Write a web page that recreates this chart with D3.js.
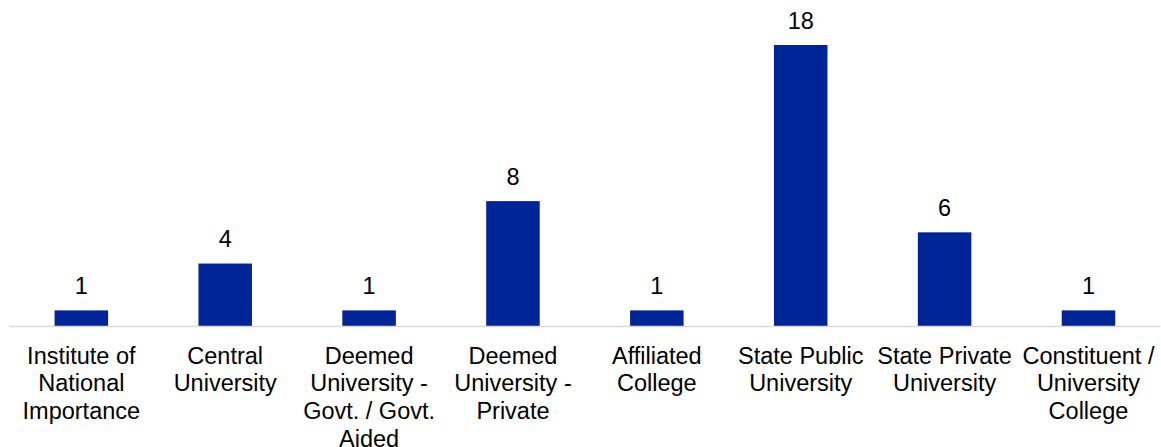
<!DOCTYPE html>
<html><head><meta charset="utf-8">
<script src="https://cdn.jsdelivr.net/npm/d3@7"></script>
<style>body{margin:0;background:#fff}svg{display:block}text{font-family:"Liberation Sans",Arial,sans-serif;fill:#000}</style>
</head><body><svg id="c" width="1161" height="447"></svg>
<script>
const categories = [
  ["Institute of","National","Importance"],
  ["Central","University"],
  ["Deemed","University -","Govt. / Govt.","Aided"],
  ["Deemed","University -","Private"],
  ["Affiliated","College"],
  ["State Public","University"],
  ["State Private","University"],
  ["Constituent /","University","College"]
];
const values = [1, 4, 1, 8, 1, 18, 6, 1];

const svg = d3.select("#c");
const keys = categories.map((d,i)=>i);
const x = d3.scaleBand().domain(keys).range([9.4, 1160.4]).paddingInner(0.628).paddingOuter(0.314);
const y = d3.scaleLinear().domain([0, 18]).range([326, 45]);

svg.selectAll("rect.bar").data(values).join("rect")
  .attr("class","bar")
  .attr("x",(d,i)=>x(i)).attr("width",x.bandwidth())
  .attr("y",d=>y(d)).attr("height",d=>y(0)-y(d))
  .attr("fill","#002596");

svg.append("line").attr("x1",9.4).attr("x2",1160.4).attr("y1",326.5).attr("y2",326.5)
  .attr("stroke","#d9d9d9").attr("stroke-width",1.5);

svg.selectAll("text.val").data(values).join("text")
  .attr("class","val")
  .attr("x",(d,i)=>x(i)+x.bandwidth()/2).attr("y",d=>y(d)-16.5)
  .attr("text-anchor","middle").style("font-size","23.5px")
  .text(d=>d);

const g = svg.selectAll("text.cat").data(categories).join("text")
  .attr("class","cat")
  .attr("text-anchor","middle").style("font-size","23.5px");
g.each(function(lines,i){
  const t = d3.select(this);
  lines.forEach((l,j)=>{
    t.append("tspan").attr("x",x(i)+x.bandwidth()/2).attr("y",363.5+j*27.8).text(l);
  });
});
</script></body></html>
